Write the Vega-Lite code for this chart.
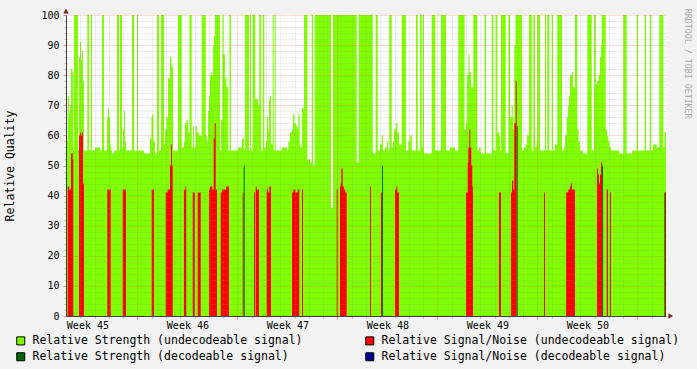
{
  "$schema": "https://vega.github.io/schema/vega-lite/v6.json",
  "width": 600,
  "height": 301,
  "autosize": {"type": "none"},
  "padding": {"left": 66, "top": 15, "right": 31, "bottom": 53},
  "background": "#F2F2F2",
  "view": {"fill": "#FFFFFF", "stroke": null},
  "title": {"text": "RRDTOOL / TOBI OETIKER", "orient": "right", "anchor": "start", "font": "DejaVu Sans Mono", "fontSize": 8.3, "fontWeight": "normal", "color": "#A8A8A8", "offset": 4, "dx": 0},
  "datasets": {
    "strength": [
      {"h":48.0,"v":58},{"h":50.9,"v":73},{"h":53.0,"v":67},{"h":54.7,"v":70},{"h":56.4,"v":82},{"h":58.6,"v":81},{"h":60.3,"v":55},{"h":61.4,"v":100},{"h":68.2,"v":55},{"h":69.8,"v":86},{"h":71.5,"v":91},{"h":73.2,"v":85},{"h":74.9,"v":88},{"h":76.6,"v":78},{"h":78.2,"v":55},{"h":83.8,"v":100},{"h":86.6,"v":55},{"h":89.5,"v":100},{"h":91.7,"v":55},{"h":96.7,"v":56},{"h":105.1,"v":55},{"h":108.5,"v":100},{"h":111.8,"v":55},{"h":116.9,"v":66},{"h":118.6,"v":69},{"h":120.2,"v":66},{"h":121.9,"v":57},{"h":123.6,"v":55},{"h":125.3,"v":54},{"h":128.6,"v":55},{"h":133.7,"v":100},{"h":137.0,"v":55},{"h":138.7,"v":100},{"h":142.1,"v":56},{"h":143.8,"v":62},{"h":145.4,"v":68},{"h":147.1,"v":58},{"h":148.8,"v":55},{"h":158.9,"v":100},{"h":162.2,"v":55},{"h":167.3,"v":100},{"h":169.0,"v":55},{"h":179.0,"v":54},{"h":189.1,"v":59},{"h":191.6,"v":66},{"h":193.3,"v":67},{"h":195.0,"v":58},{"h":197.5,"v":54},{"h":200.9,"v":100},{"h":204.2,"v":55},{"h":207.6,"v":100},{"h":212.6,"v":57},{"h":214.3,"v":62},{"h":216.8,"v":66},{"h":219.4,"v":79},{"h":222.7,"v":86},{"h":225.2,"v":83},{"h":227.8,"v":55},{"h":236.2,"v":100},{"h":242.4,"v":56},{"h":246.2,"v":58},{"h":247.9,"v":64},{"h":250.4,"v":65},{"h":253.0,"v":61},{"h":255.5,"v":100},{"h":259.2,"v":56},{"h":261.4,"v":63},{"h":263.0,"v":56},{"h":265.6,"v":63},{"h":268.1,"v":61},{"h":271.4,"v":60},{"h":276.0,"v":100},{"h":282.7,"v":60},{"h":284.9,"v":58},{"h":286.6,"v":68},{"h":288.2,"v":73},{"h":289.9,"v":80},{"h":291.6,"v":81},{"h":293.3,"v":80},{"h":295.0,"v":90},{"h":296.6,"v":93},{"h":298.3,"v":100},{"h":306.7,"v":55},{"h":308.4,"v":65},{"h":310.6,"v":100},{"h":312.6,"v":87},{"h":315.1,"v":79},{"h":317.6,"v":76},{"h":320.2,"v":55},{"h":322.7,"v":100},{"h":325.2,"v":55},{"h":337.0,"v":56},{"h":343.7,"v":59},{"h":347.0,"v":55},{"h":348.7,"v":100},{"h":355.4,"v":55},{"h":357.1,"v":100},{"h":358.8,"v":55},{"h":361.7,"v":100},{"h":366.0,"v":72},{"h":370.6,"v":70},{"h":372.7,"v":100},{"h":375.6,"v":55},{"h":378.5,"v":100},{"h":381.1,"v":56},{"h":384.0,"v":58},{"h":385.7,"v":66},{"h":387.4,"v":62},{"h":389.0,"v":72},{"h":390.7,"v":73},{"h":392.4,"v":57},{"h":395.3,"v":100},{"h":396.9,"v":55},{"h":398.6,"v":100},{"h":400.3,"v":55},{"h":410.4,"v":56},{"h":419.3,"v":55},{"h":421.5,"v":58},{"h":424.3,"v":61},{"h":427.7,"v":62},{"h":429.4,"v":67},{"h":431.9,"v":64},{"h":434.4,"v":63},{"h":436.9,"v":62},{"h":438.3,"v":67},{"h":440.6,"v":57},{"h":441.1,"v":56},{"h":443.6,"v":57},{"h":444.5,"v":69},{"h":447.8,"v":100},{"h":453.4,"v":52},{"h":457.9,"v":51},{"h":460.8,"v":100},{"h":463.0,"v":50},{"h":465.8,"v":100},{"h":493.2,"v":36},{"h":496.6,"v":100},{"h":536.4,"v":51},{"h":539.7,"v":100},{"h":563.3,"v":54},{"h":568.3,"v":100},{"h":571.7,"v":55},{"h":575.5,"v":57},{"h":578.4,"v":60},{"h":580.6,"v":55},{"h":583.9,"v":56},{"h":587.3,"v":58},{"h":589.0,"v":55},{"h":591.1,"v":100},{"h":595.2,"v":56},{"h":597.4,"v":58},{"h":599.0,"v":62},{"h":601.9,"v":64},{"h":604.6,"v":61},{"h":607.4,"v":57},{"h":612.0,"v":100},{"h":619.2,"v":55},{"h":623.1,"v":58},{"h":625.4,"v":60},{"h":628.8,"v":55},{"h":636.0,"v":100},{"h":638.9,"v":55},{"h":642.7,"v":100},{"h":645.6,"v":56},{"h":647.3,"v":100},{"h":649.4,"v":54},{"h":662.4,"v":100},{"h":668.4,"v":55},{"h":678.0,"v":100},{"h":686.4,"v":55},{"h":693.1,"v":56},{"h":701.5,"v":55},{"h":707.1,"v":100},{"h":717.5,"v":62},{"h":720.0,"v":64},{"h":721.7,"v":80},{"h":724.2,"v":87},{"h":725.9,"v":81},{"h":728.4,"v":76},{"h":732.3,"v":100},{"h":739.0,"v":55},{"h":741.8,"v":56},{"h":744.7,"v":54},{"h":751.4,"v":100},{"h":753.6,"v":54},{"h":763.2,"v":100},{"h":765.9,"v":55},{"h":769.9,"v":100},{"h":772.6,"v":61},{"h":775.4,"v":60},{"h":777.1,"v":55},{"h":778.8,"v":100},{"h":786.7,"v":54},{"h":791.1,"v":100},{"h":793.9,"v":66},{"h":796.8,"v":70},{"h":798.5,"v":66},{"h":799.8,"v":62},{"h":801.1,"v":90},{"h":803.2,"v":100},{"h":814.1,"v":55},{"h":817.4,"v":56},{"h":820.3,"v":57},{"h":822.5,"v":60},{"h":825.8,"v":100},{"h":830.4,"v":55},{"h":833.1,"v":100},{"h":835.9,"v":56},{"h":838.4,"v":58},{"h":839.8,"v":100},{"h":844.3,"v":55},{"h":852.7,"v":100},{"h":854.4,"v":55},{"h":856.6,"v":100},{"h":859.9,"v":55},{"h":864.0,"v":100},{"h":866.2,"v":55},{"h":869.5,"v":57},{"h":873.4,"v":100},{"h":881.3,"v":55},{"h":884.6,"v":56},{"h":886.3,"v":60},{"h":889.2,"v":66},{"h":891.4,"v":70},{"h":893.0,"v":73},{"h":894.7,"v":80},{"h":897.6,"v":81},{"h":899.8,"v":76},{"h":903.1,"v":100},{"h":907.0,"v":62},{"h":909.0,"v":58},{"h":911.5,"v":55},{"h":916.6,"v":54},{"h":923.8,"v":100},{"h":931.2,"v":55},{"h":935.0,"v":100},{"h":937.9,"v":77},{"h":940.1,"v":78},{"h":942.6,"v":80},{"h":945.1,"v":86},{"h":946.8,"v":90},{"h":948.0,"v":100},{"h":954.7,"v":62},{"h":956.9,"v":60},{"h":959.1,"v":58},{"h":961.1,"v":56},{"h":963.6,"v":55},{"h":977.5,"v":54},{"h":984.3,"v":100},{"h":990.0,"v":54},{"h":998.9,"v":55},{"h":1006.8,"v":100},{"h":1009.0,"v":55},{"h":1020.2,"v":100},{"h":1022.4,"v":55},{"h":1028.6,"v":100},{"h":1030.8,"v":55},{"h":1034.2,"v":57},{"h":1040.4,"v":56},{"h":1044.7,"v":100},{"h":1051.5,"v":56},{"h":1053.5,"v":61},{"h":1056.0,"v":61}
    ],
    "snr": [
      {"h":48.0,"v":0},{"h":50.9,"v":43},{"h":53.5,"v":42},{"h":56.4,"v":54},{"h":59.3,"v":52},{"h":60.3,"v":0},{"h":69.8,"v":60},{"h":71.5,"v":61},{"h":73.2,"v":60},{"h":74.9,"v":61},{"h":76.6,"v":44},{"h":78.2,"v":0},{"h":117.4,"v":42},{"h":123.1,"v":0},{"h":143.3,"v":42},{"h":148.8,"v":0},{"h":192.0,"v":42},{"h":195.8,"v":0},{"h":215.5,"v":41},{"h":218.9,"v":42},{"h":222.7,"v":50},{"h":224.4,"v":57},{"h":226.1,"v":50},{"h":227.3,"v":0},{"h":246.2,"v":42},{"h":248.8,"v":43},{"h":250.1,"v":0},{"h":260.9,"v":41},{"h":264.2,"v":0},{"h":269.3,"v":41},{"h":274.3,"v":0},{"h":288.2,"v":42},{"h":289.9,"v":43},{"h":293.8,"v":42},{"h":296.1,"v":59},{"h":297.8,"v":64},{"h":299.5,"v":42},{"h":301.7,"v":0},{"h":307.9,"v":41},{"h":310.1,"v":42},{"h":316.8,"v":43},{"h":321.8,"v":0},{"h":344.9,"v":41},{"h":346.5,"v":0},{"h":363.8,"v":41},{"h":365.5,"v":0},{"h":366.7,"v":43},{"h":368.4,"v":42},{"h":372.2,"v":0},{"h":385.2,"v":42},{"h":387.4,"v":41},{"h":389.5,"v":43},{"h":392.4,"v":0},{"h":427.7,"v":41},{"h":429.9,"v":42},{"h":433.2,"v":41},{"h":437.3,"v":42},{"h":439.9,"v":0},{"h":444.5,"v":42},{"h":446.2,"v":0},{"h":502.8,"v":42},{"h":504.5,"v":0},{"h":508.3,"v":43},{"h":509.5,"v":44},{"h":510.5,"v":49},{"h":512.9,"v":43},{"h":515.0,"v":42},{"h":517.2,"v":41},{"h":519.6,"v":0},{"h":558.7,"v":43},{"h":560.4,"v":0},{"h":577.2,"v":41},{"h":578.9,"v":0},{"h":600.7,"v":42},{"h":602.9,"v":43},{"h":604.6,"v":41},{"h":607.4,"v":0},{"h":720.0,"v":41},{"h":722.9,"v":51},{"h":723.9,"v":56},{"h":725.5,"v":62},{"h":727.2,"v":56},{"h":728.9,"v":50},{"h":730.6,"v":43},{"h":731.8,"v":0},{"h":775.4,"v":41},{"h":778.8,"v":0},{"h":795.6,"v":41},{"h":797.3,"v":45},{"h":799.5,"v":42},{"h":801.1,"v":64},{"h":803.5,"v":78},{"h":805.2,"v":0},{"h":851.0,"v":41},{"h":852.7,"v":0},{"h":888.0,"v":41},{"h":891.9,"v":42},{"h":894.7,"v":43},{"h":896.4,"v":44},{"h":898.1,"v":42},{"h":903.1,"v":0},{"h":940.1,"v":49},{"h":941.8,"v":47},{"h":943.4,"v":44},{"h":945.1,"v":47},{"h":946.8,"v":51},{"h":948.5,"v":42},{"h":950.2,"v":0},{"h":956.4,"v":42},{"h":958.6,"v":0},{"h":961.9,"v":41},{"h":963.6,"v":0},{"h":1053.1,"v":41},{"h":1056.0,"v":41}
    ],
    "decodeable": [
      {"h":48.0,"v":0},{"h":346.5,"v":50},{"h":348.2,"v":0},{"h":578.9,"v":50},{"h":580.6,"v":0},{"h":805.2,"v":63},{"h":806.9,"v":0},{"h":948.5,"v":50},{"h":950.2,"v":0},{"h":1054.3,"v":41},{"h":1056.0,"v":41}
    ]
  },
  "layer": [
    {
      "data": {"name": "strength"},
      "mark": {"type": "area", "interpolate": "step-after", "opacity": 1},
      "encoding": {
        "x": {"field": "h", "type": "quantitative", "scale": {"domain": [48, 1056], "nice": false, "zero": false},
          "axis": {"orient": "bottom", "values": [72,96,120,144,192,216,240,264,288,312,360,384,408,432,456,480,528,552,576,600,624,648,696,720,744,768,792,816,864,888,912,936,960,984,1032], "grid": true, "gridColor": "#8F8F8F", "gridOpacity": 0.3, "gridDash": [1, 1], "labels": false, "ticks": true, "tickSize": 2, "tickColor": "#8F8F8F", "tickOpacity": 0.5, "domain": false, "title": null, "zindex": 1}},
        "y": {"field": "v", "type": "quantitative", "scale": {"domain": [0, 100], "nice": false},
          "axis": {"orient": "left", "values": [2,4,6,8,12,14,16,18,22,24,26,28,32,34,36,38,42,44,46,48,52,54,56,58,62,64,66,68,72,74,76,78,82,84,86,88,92,94,96,98], "grid": true, "gridColor": "#8F8F8F", "gridOpacity": 0.3, "gridDash": [1, 1], "labels": false, "ticks": true, "tickSize": 2, "tickColor": "#8F8F8F", "tickOpacity": 0.5, "domain": false, "title": null, "zindex": 1}},
        "color": {"datum": "Relative Strength (undecodeable signal)", "type": "nominal",
          "scale": {"domain": ["Relative Strength (undecodeable signal)", "Relative Strength  (decodeable signal)", "Relative Signal/Noise (undecodeable signal)", "Relative Signal/Noise (decodeable signal)"], "range": ["#80FF00", "#006600", "#FF0000", "#000099"]},
          "legend": {"title": null}}
      }
    },
    {
      "data": {"name": "snr"},
      "mark": {"type": "area", "interpolate": "step-after", "opacity": 1},
      "encoding": {
        "x": {"field": "h", "type": "quantitative",
          "axis": {"orient": "bottom", "values": [168, 336, 504, 672, 840, 1008], "grid": true, "gridColor": "#DE5050", "gridOpacity": 0.4, "gridDash": [1, 1], "labels": false, "ticks": true, "tickSize": 3, "tickColor": "#DE5050", "tickOpacity": 0.6, "domain": true, "domainColor": "#404040", "domainWidth": 1, "title": null, "zindex": 1}},
        "y": {"field": "v", "type": "quantitative",
          "axis": {"orient": "left", "values": [0,10,20,30,40,50,60,70,80,90,100], "grid": true, "gridColor": "#DE5050", "gridOpacity": 0.4, "gridDash": [1, 1], "labels": true, "labelFont": "DejaVu Sans Mono", "labelFontSize": 10, "labelColor": "#000000", "labelPadding": 4, "labelFlush": false, "ticks": true, "tickSize": 3, "tickColor": "#DE5050", "tickOpacity": 0.6, "domain": true, "domainColor": "#404040", "domainWidth": 1, "title": "Relative Quality", "titleFont": "DejaVu Sans Mono", "titleFontSize": 11.5, "titleFontWeight": "normal", "titleColor": "#000000", "titlePadding": 25, "zindex": 1}},
        "color": {"datum": "Relative Signal/Noise (undecodeable signal)", "type": "nominal", "legend": {"title": null}}
      }
    },
    {
      "data": {"name": "decodeable"},
      "mark": {"type": "area", "interpolate": "step-after", "opacity": 1},
      "encoding": {
        "x": {"field": "h", "type": "quantitative",
          "axis": {"orient": "bottom", "values": [84, 252, 420, 588, 756, 924], "labelExpr": "'Week ' + (45 + floor(datum.value / 168))", "grid": false, "ticks": false, "domain": false, "labelFont": "DejaVu Sans Mono", "labelFontSize": 10, "labelColor": "#000000", "labelPadding": 4, "labelFlush": false, "labelOverlap": false, "title": null, "zindex": 1}},
        "y": {"field": "v", "type": "quantitative", "axis": null},
        "color": {"datum": "Relative Strength  (decodeable signal)", "type": "nominal", "legend": {"title": null}}
      }
    },
    {
      "data": {"values": [{}]},
      "mark": {"type": "point", "shape": "triangle-up", "filled": true, "size": 30, "color": "#801F1F", "opacity": 1},
      "encoding": {
        "x": {"datum": 48, "type": "quantitative", "axis": null},
        "y": {"datum": 101.3, "type": "quantitative", "axis": null}
      }
    },
    {
      "data": {"values": [{}]},
      "mark": {"type": "point", "shape": "triangle-right", "filled": true, "size": 30, "color": "#801F1F", "opacity": 1},
      "encoding": {
        "x": {"datum": 1064, "type": "quantitative", "axis": null},
        "y": {"datum": 0, "type": "quantitative", "axis": null}
      }
    }
  ],
  "resolve": {"axis": {"x": "independent", "y": "independent"}},
  "config": {
    "legend": {"orient": "none", "legendX": -51, "legendY": 320, "columns": 2, "columnPadding": 60, "rowPadding": 3, "symbolType": "square", "symbolSize": 64, "symbolStrokeColor": "#000000", "symbolStrokeWidth": 1, "symbolOpacity": 1, "labelFont": "DejaVu Sans Mono", "labelFontSize": 11.5, "labelColor": "#000000", "labelOffset": 6, "labelLimit": 0, "padding": 0}
  }
}
